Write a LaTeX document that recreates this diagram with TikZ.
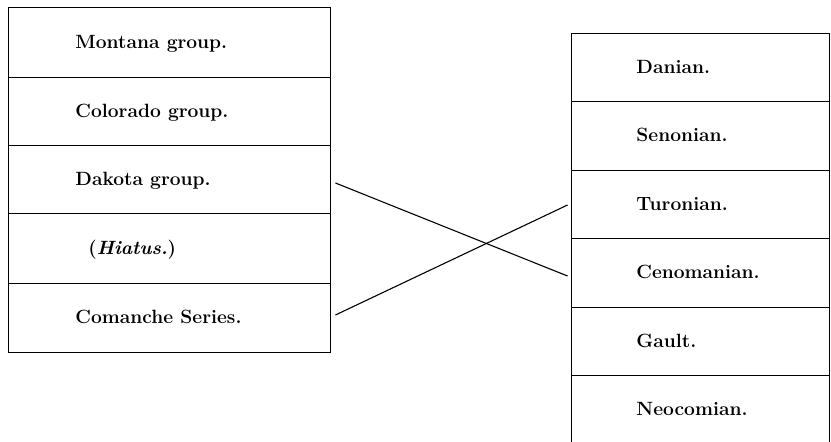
\documentclass[tikz,border=0pt]{standalone}
\begin{document}
\begin{tikzpicture}[x=1pt,y=-1pt,line width=0.9pt,
  lcell/.style={minimum width=322pt,minimum height=69pt,inner sep=0pt,draw=none},
  rcell/.style={minimum width=258pt,minimum height=68.3pt,inner sep=0pt,draw=none},
  lab/.style={anchor=base west,inner sep=0pt,font=\fontsize{19.2}{22}\selectfont\bfseries},
  link/.style={line width=1.1pt}]
\useasboundingbox (0,0) rectangle (831,442);
% left column cells
\node[lcell] (montana)  at (169,42)    {};
\node[lcell] (colorado) at (169,111)   {};
\node[lcell] (dakota)   at (169,179)   {};
\node[lcell] (hiatus)   at (169,248)   {};
\node[lcell] (comanche) at (169,317.5) {};
% right column cells
\node[rcell] (danian)     at (700,67)    {};
\node[rcell] (senonian)   at (700,135.5) {};
\node[rcell] (turonian)   at (700,204)   {};
\node[rcell] (cenomanian) at (700,272.5) {};
\node[rcell] (gault)      at (700,341)   {};
\node[rcell] (neocomian)  at (700,409)   {};
% left outline and dividers
\draw (8,7) rectangle (330,352);
\draw (8,77) -- (330,77);
\draw (8,145) -- (330,145);
\draw (8,213) -- (330,213);
\draw (8,283) -- (330,283);
% right outline and dividers
\draw (571,442) -- (571,33) -- (829,33) -- (829,442);
\draw (571,101) -- (829,101);
\draw (571,170) -- (829,170);
\draw (571,238) -- (829,238);
\draw (571,307) -- (829,307);
\draw (571,375) -- (829,375);
% labels
\node[lab] (tmontana)  at (75,48.5)  {Montana group.};
\node[lab] (tcolorado) at (75,117)   {Colorado group.};
\node[lab] (tdakota)   at (75,185)   {Dakota group.};
\node[lab] (thiatus)   at (88,254)   {(\textit{Hiatus.})};
\node[lab] (tcomanche) at (75,323.5) {Comanche Series.};
\node[lab] (tdanian)     at (636,73)    {Danian.};
\node[lab] (tsenonian)   at (636,141.5) {Senonian.};
\node[lab] (tturonian)   at (636,210)   {Turonian.};
\node[lab] (tcenomanian) at (636,278.5) {Cenomanian.};
\node[lab] (tgault)      at (636,347)   {Gault.};
\node[lab] (tneocomian)  at (636,415)   {Neocomian.};
% correlation lines
\draw[link] ([shift={(5,4)}]dakota.east) -- ([shift={(-3,3.5)}]cenomanian.west);
\draw[link] ([shift={(5,-2.5)}]comanche.east) -- ([shift={(-3,1)}]turonian.west);
\end{tikzpicture}
\end{document}
